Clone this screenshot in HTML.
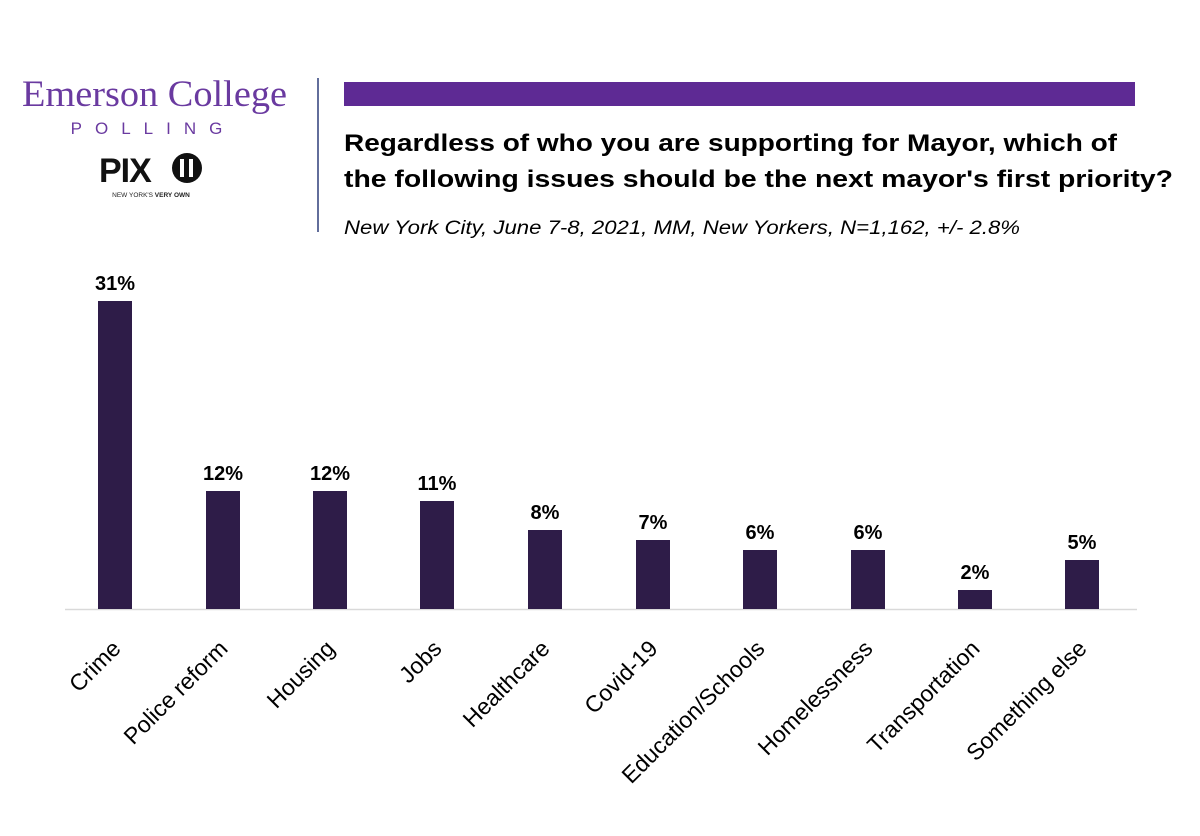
<!DOCTYPE html>
<html><head><meta charset="utf-8"><style>
html,body{margin:0;padding:0;background:#fff;}
</style></head><body>
<svg width="1200" height="831" xmlns="http://www.w3.org/2000/svg" font-family="Liberation Sans, sans-serif">
<rect width="1200" height="831" fill="#fff"/>
<text x="22" y="106" textLength="265" lengthAdjust="spacingAndGlyphs" font-family="Liberation Serif, serif" font-size="37" fill="#6a3aa0">Emerson College</text>
<text x="153" y="134" text-anchor="middle" font-size="17" letter-spacing="13" fill="#6a3aa0">POLLING</text>
<text x="99" y="182" font-size="34" font-weight="bold" fill="#111" letter-spacing="-1">PIX</text>
<circle cx="187" cy="168" r="15" fill="#111"/>
<rect x="180" y="159" width="4" height="18" fill="#fff"/><rect x="189" y="159" width="4" height="18" fill="#fff"/>
<text x="151" y="197" text-anchor="middle" font-size="6.5" fill="#222">NEW YORK'S <tspan font-weight="bold">VERY OWN</tspan></text>
<line x1="318" y1="78" x2="318" y2="232" stroke="#2f3f7a" stroke-width="1.5"/>
<rect x="344" y="82" width="791" height="24" fill="#5e2a94"/>
<text x="344" y="151" font-size="24" font-weight="bold" fill="#000" textLength="773" lengthAdjust="spacingAndGlyphs">Regardless of who you are supporting for Mayor, which of</text>
<text x="344" y="187" font-size="24" font-weight="bold" fill="#000" textLength="829" lengthAdjust="spacingAndGlyphs">the following issues should be the next mayor's first priority?</text>
<text x="344" y="234" font-size="19" font-style="italic" fill="#000" textLength="676" lengthAdjust="spacingAndGlyphs">New York City, June 7-8, 2021, MM, New Yorkers, N=1,162, +/- 2.8%</text>
<line x1="65" y1="609.5" x2="1137" y2="609.5" stroke="#d9d9d9" stroke-width="1.5"/>
<g fill="#2e1c48">
<rect x="98" y="301" width="34" height="308"/>
<rect x="206" y="491" width="34" height="118"/>
<rect x="313" y="491" width="34" height="118"/>
<rect x="420" y="501" width="34" height="108"/>
<rect x="528" y="530" width="34" height="79"/>
<rect x="636" y="540" width="34" height="69"/>
<rect x="743" y="550" width="34" height="59"/>
<rect x="851" y="550" width="34" height="59"/>
<rect x="958" y="590" width="34" height="19"/>
<rect x="1065" y="560" width="34" height="49"/>
</g>
<g font-size="20" font-weight="bold" text-anchor="middle" fill="#000">
<text x="115" y="290">31%</text>
<text x="223" y="480">12%</text>
<text x="330" y="480">12%</text>
<text x="437" y="490">11%</text>
<text x="545" y="519">8%</text>
<text x="653" y="529">7%</text>
<text x="760" y="539">6%</text>
<text x="868" y="539">6%</text>
<text x="975" y="579">2%</text>
<text x="1082" y="549">5%</text>
</g>
<g font-size="23" text-anchor="end" fill="#000">
<text transform="translate(122,650) rotate(-45)">Crime</text>
<text transform="translate(229,650) rotate(-45)">Police reform</text>
<text transform="translate(336,650) rotate(-45)">Housing</text>
<text transform="translate(443,650) rotate(-45)">Jobs</text>
<text transform="translate(551,650) rotate(-45)">Healthcare</text>
<text transform="translate(659,650) rotate(-45)">Covid-19</text>
<text transform="translate(766,650) rotate(-45)">Education/Schools</text>
<text transform="translate(874,650) rotate(-45)">Homelessness</text>
<text transform="translate(981,650) rotate(-45)">Transportation</text>
<text transform="translate(1088,650) rotate(-45)">Something else</text>
</g>
</svg>
</body></html>
